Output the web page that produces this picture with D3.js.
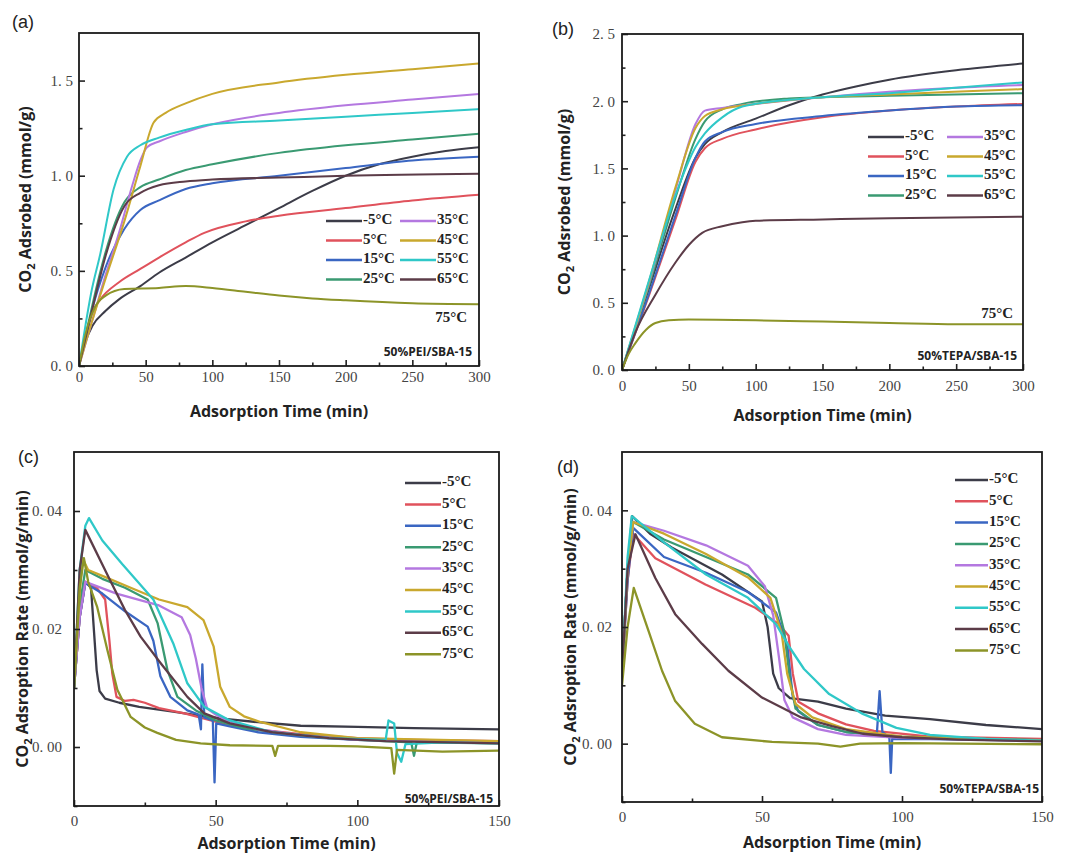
<!DOCTYPE html>
<html><head><meta charset="utf-8">
<script src="https://cdn.jsdelivr.net/npm/d3@7/dist/d3.min.js"></script>
<style>body{margin:0;background:#fff}</style>
</head><body>
<svg id="chart" width="1069" height="855"></svg>
<script>
// ---------- categories ----------
const temps = ["-5°C","5°C","15°C","25°C","35°C","45°C","55°C","65°C","75°C"];
const colors = ["#3c3c48","#e0525c","#3a66c2","#3a9a72","#b478e0","#c9a82e","#2fc8c8","#5c3c48","#8c9428"];

// ---------- (a) 50%PEI/SBA-15 uptake [min, mmol/g] ----------
const a_m5 = [[0,0],[5,0.13],[10,0.21],[20,0.29],[30,0.35],[46,0.42],[60,0.49],[80,0.57],[100,0.65],[125,0.74],[150,0.83],[175,0.92],[200,1.0],[225,1.06],[250,1.1],[275,1.13],[300,1.15]];
const a_p5 = [[0,0],[5,0.15],[10,0.28],[16,0.35],[30,0.44],[46,0.51],[60,0.57],[80,0.65],[94,0.7],[125,0.76],[150,0.79],[200,0.83],[250,0.87],[300,0.9]];
const a_p15 = [[0,0],[5,0.15],[10,0.3],[20,0.52],[34,0.72],[46,0.82],[60,0.87],[80,0.93],[100,0.96],[150,1.0],[200,1.04],[250,1.08],[300,1.1]];
const a_p25 = [[0,0],[5,0.16],[10,0.32],[20,0.6],[34,0.86],[46,0.94],[60,0.98],[80,1.03],[100,1.06],[150,1.12],[200,1.16],[250,1.19],[300,1.22]];
const a_p35 = [[0,0],[10,0.24],[20,0.48],[30,0.7],[40,0.95],[46,1.08],[51,1.15],[60,1.18],[80,1.23],[100,1.27],[150,1.33],[200,1.37],[250,1.4],[300,1.43]];
const a_p45 = [[0,0],[10,0.24],[20,0.46],[34,0.76],[46,1.05],[56,1.28],[65,1.33],[80,1.38],[100,1.43],[150,1.49],[200,1.53],[250,1.56],[300,1.59]];
const a_p55 = [[0,0],[5,0.22],[9,0.38],[16,0.59],[26,0.93],[36,1.1],[46,1.16],[60,1.2],[80,1.24],[100,1.27],[150,1.29],[200,1.31],[250,1.33],[300,1.35]];
const a_p65 = [[0,0],[5,0.15],[10,0.3],[20,0.58],[34,0.84],[46,0.91],[60,0.95],[80,0.97],[100,0.98],[150,0.99],[200,1.0],[300,1.01]];
const a_p75 = [[0,0],[5,0.17],[12,0.31],[20,0.37],[34,0.405],[60,0.41],[80,0.42],[100,0.41],[125,0.39],[150,0.37],[175,0.355],[200,0.345],[250,0.33],[300,0.325]];

// ---------- (b) 50%TEPA/SBA-15 uptake ----------
const b_m5 = [[0,0],[20,0.6],[40,1.2],[55,1.58],[62,1.68],[75,1.77],[100,1.87],[125,1.97],[150,2.05],[175,2.11],[200,2.16],[250,2.23],[300,2.28]];
const b_p5 = [[0,0],[20,0.55],[40,1.12],[55,1.55],[62,1.65],[75,1.72],[100,1.79],[150,1.88],[200,1.93],[250,1.96],[300,1.98]];
const b_p15 = [[0,0],[20,0.56],[40,1.15],[55,1.58],[62,1.7],[75,1.77],[100,1.83],[150,1.89],[200,1.93],[250,1.96],[300,1.97]];
const b_p25 = [[0,0],[20,0.62],[40,1.28],[55,1.72],[62,1.85],[75,1.94],[90,1.98],[125,2.02],[150,2.03],[200,2.04],[300,2.06]];
const b_p35 = [[0,0],[20,0.64],[40,1.34],[55,1.83],[62,1.93],[75,1.95],[100,1.98],[150,2.03],[200,2.07],[250,2.1],[300,2.12]];
const b_p45 = [[0,0],[20,0.65],[40,1.36],[55,1.8],[62,1.89],[75,1.94],[100,1.98],[150,2.03],[200,2.05],[300,2.09]];
const b_p55 = [[0,0],[20,0.66],[40,1.3],[55,1.66],[62,1.76],[75,1.88],[90,1.96],[125,2.01],[150,2.03],[200,2.06],[250,2.1],[300,2.14]];
const b_p65 = [[0,0],[10,0.28],[25,0.56],[40,0.8],[50,0.93],[60,1.02],[75,1.07],[90,1.1],[100,1.11],[150,1.12],[200,1.13],[300,1.14]];
const b_p75 = [[0,0],[5,0.12],[10,0.2],[18,0.3],[25,0.35],[35,0.37],[50,0.375],[100,0.37],[150,0.36],[200,0.35],[250,0.34],[300,0.34]];

// ---------- (c) 50%PEI/SBA-15 rate [min, mmol/g/min] ----------
const c_m5 = [[0,0.01],[2,0.022],[4,0.028],[6,0.027],[8,0.013],[9,0.0095],[11,0.0082],[16,0.0075],[23,0.0068],[35,0.006],[46,0.0052],[55,0.0047],[65,0.0042],[80,0.0036],[100,0.0034],[120,0.0032],[150,0.003]];
const c_p5 = [[0,0.01],[2,0.022],[4,0.028],[8,0.027],[11,0.025],[12.5,0.018],[13.5,0.0125],[15,0.0085],[18,0.0078],[21,0.008],[25,0.0075],[30,0.0066],[39,0.0057],[50,0.0043],[60,0.0032],[80,0.0022],[100,0.0015],[120,0.0012],[150,0.001]];
const c_p15 = [[0,0.01],[2,0.022],[4,0.0278],[10,0.026],[18,0.023],[26,0.0204],[28,0.018],[30.5,0.012],[34,0.0085],[40,0.0062],[44,0.0055],[44.8,0.003],[45.3,0.014],[46,0.005],[49,0.0045],[49.6,-0.006],[50.2,0.004],[55,0.0035],[65,0.0025],[80,0.0017],[100,0.0012],[150,0.0008]];
const c_p25 = [[0,0.01],[2,0.024],[4,0.03],[10,0.0285],[18,0.027],[26,0.025],[29.5,0.021],[33,0.013],[36.5,0.0085],[43,0.0062],[50,0.0045],[60,0.0032],[80,0.002],[100,0.0012],[119,0.0008],[120,-0.0015],[121,0.0008],[150,0.0006]];
const c_p35 = [[0,0.01],[2,0.022],[4,0.028],[15,0.026],[30,0.024],[38,0.022],[41,0.019],[43,0.015],[45,0.01],[47,0.0065],[50,0.0055],[55,0.0042],[65,0.003],[80,0.002],[100,0.0012],[150,0.0008]];
const c_p45 = [[0,0.01],[2,0.026],[3,0.032],[5,0.03],[10,0.029],[20,0.027],[30,0.025],[40,0.0237],[45.7,0.0215],[49.3,0.017],[51.6,0.0102],[55,0.0068],[60,0.0052],[66,0.0042],[80,0.0025],[100,0.0015],[150,0.001]];
const c_p55 = [[0,0.01],[2,0.03],[4,0.0375],[5.3,0.0388],[10,0.035],[17,0.031],[28,0.025],[35,0.0176],[40,0.0108],[46,0.0068],[55,0.0045],[70,0.0025],[90,0.0015],[110,0.0012],[111,0.0045],[113,0.004],[114,-0.001],[115.5,-0.0025],[117,0.0005],[130,0.0008],[150,0.0006]];
const c_p65 = [[0,0.01],[2,0.03],[4,0.0368],[12,0.029],[18,0.0232],[23.5,0.0187],[30.6,0.0142],[40,0.0085],[46,0.0057],[55,0.004],[70,0.0025],[90,0.0015],[110,0.001],[150,0.0006]];
const c_p75 = [[0,0.01],[2,0.027],[3.5,0.032],[5,0.028],[8.2,0.0237],[11.8,0.0164],[15.3,0.0097],[20,0.0051],[25,0.0033],[29.4,0.0024],[36,0.0012],[44.7,0.0006],[55,0.0003],[70,0.0002],[71,-0.0015],[72,0.0002],[90,0.0002],[100,0.0001],[112,-0.0002],[113,-0.0045],[114,-0.0005],[130,-0.0008],[150,-0.0006]];

// ---------- (d) 50%TEPA/SBA-15 rate ----------
const d_m5 = [[0,0.012],[2,0.03],[3.6,0.039],[10,0.036],[17.9,0.0336],[35.7,0.029],[50,0.0244],[52,0.02],[54,0.012],[56,0.0095],[60,0.0078],[70,0.0072],[80,0.006],[94,0.0048],[110,0.0042],[130,0.0032],[150,0.0025]];
const d_p5 = [[0,0.012],[2,0.028],[4,0.036],[11.9,0.0318],[29.8,0.0273],[47.6,0.0233],[56,0.0205],[59.5,0.0185],[61,0.012],[63,0.0072],[70,0.0052],[80,0.0033],[90,0.0022],[110,0.0012],[150,0.0008]];
const d_p15 = [[0,0.012],[2,0.028],[4,0.037],[15,0.032],[30,0.0293],[45,0.026],[55,0.0225],[59,0.017],[61,0.008],[63,0.0055],[70,0.0032],[80,0.002],[91,0.0015],[92,0.009],[93,0.002],[95.5,0.001],[96,-0.005],[96.5,0.0008],[110,0.0008],[150,0.0005]];
const d_p25 = [[0,0.012],[2,0.03],[4,0.038],[15,0.035],[30,0.032],[45,0.029],[55,0.025],[58,0.019],[60,0.011],[62,0.006],[70,0.0032],[80,0.002],[100,0.0012],[150,0.0006]];
const d_p35 = [[0,0.012],[2,0.03],[4,0.038],[15,0.0365],[30,0.034],[45,0.0305],[51,0.027],[54,0.022],[56,0.015],[58,0.0075],[61,0.0045],[70,0.0025],[80,0.0015],[100,0.001],[150,0.0005]];
const d_p45 = [[0,0.012],[2,0.03],[4,0.038],[15,0.036],[30,0.0325],[45,0.0285],[53,0.025],[57,0.019],[59,0.012],[62,0.0068],[68,0.0045],[80,0.0025],[100,0.0012],[150,0.0005]];
const d_p55 = [[0,0.012],[2,0.032],[3.5,0.039],[15,0.0345],[30,0.029],[45,0.025],[55,0.0205],[60,0.0164],[65,0.0128],[74,0.0085],[86,0.0051],[98,0.0027],[110,0.0015],[130,0.0008],[150,0.0005]];
const d_p65 = [[0,0.012],[2,0.03],[4.8,0.0359],[11.9,0.0284],[19,0.0222],[28.6,0.0171],[38,0.0125],[50,0.0079],[64,0.0045],[75,0.003],[86,0.0017],[100,0.0011],[120,0.0007],[150,0.0004]];
const d_p75 = [[0,0.01],[2,0.02],[4.2,0.0267],[9.5,0.0193],[14.3,0.0125],[19,0.0073],[26,0.0034],[35.7,0.0011],[53.6,0.0003],[70,0],[78,-0.0005],[85,0],[100,0.0001],[150,-0.0001]];

// ---------- tick values & labels ----------
const uptakeXTicks = [0,50,100,150,200,250,300];
const uptakeXLabels = ["0","50","100","150","200","250","300"];
const uptakeXMinor = [25,75,125,175,225,275];
const aYTicks = [0,0.5,1.0,1.5];
const aYLabels = ["0. 0","0. 5","1. 0","1. 5"];
const aYMinor = [0.25,0.75,1.25];
const bYTicks = [0,0.5,1.0,1.5,2.0,2.5];
const bYLabels = ["0. 0","0. 5","1. 0","1. 5","2. 0","2. 5"];
const bYMinor = [0.25,0.75,1.25,1.75,2.25];
const rateXTicks = [0,50,100,150];
const rateXLabels = ["0","50","100","150"];
const rateXMinor = [25,75,125];
const rateYTicks = [0,0.02,0.04];
const rateYLabels = ["0. 00","0. 02","0. 04"];
const rateYMinor = [-0.01,0.01,0.03];

const panels = [
  {tag:"(a)", series:[a_m5,a_p5,a_p15,a_p25,a_p35,a_p45,a_p55,a_p65,a_p75], xd:[0,300], yd:[0,1.75],
   xt:uptakeXTicks, xl:uptakeXLabels, xm:uptakeXMinor, yt:aYTicks, yl:aYLabels, ym:aYMinor,
   box:{l:79,r:479,t:33,b:366}, xpad:5, ypad:6, curve:d3.curveMonotoneX, sw:2,
   ytitle:["CO","2"," Adsrobed (mmol/g)"], ytx:27, xty:413, tagPos:[12,28],
   legend:{type:2, x1:326, x2:400, y0:221, dy:19.5, len:36},
   note:"50%PEI/SBA-15", noteX:472, noteY:356, t75:[467,322]},
  {tag:"(b)", series:[b_m5,b_p5,b_p15,b_p25,b_p35,b_p45,b_p55,b_p65,b_p75], xd:[0,300], yd:[0,2.5],
   xt:uptakeXTicks, xl:uptakeXLabels, xm:uptakeXMinor, yt:bYTicks, yl:bYLabels, ym:bYMinor,
   box:{l:622,r:1023,t:34,b:370}, xpad:10, ypad:7, curve:d3.curveMonotoneX, sw:2,
   ytitle:["CO","2"," Adsrobed (mmol/g)"], ytx:566, xty:417, tagPos:[552,35],
   legend:{type:2, x1:868, x2:947, y0:137, dy:19.5, len:36},
   note:"50%TEPA/SBA-15", noteX:1017, noteY:360, t75:[1013,318]},
  {tag:"(c)", series:[c_m5,c_p5,c_p15,c_p25,c_p35,c_p45,c_p55,c_p65,c_p75], xd:[0,150], yd:[-0.01,0.05],
   xt:rateXTicks, xl:rateXLabels, xm:rateXMinor, yt:rateYTicks, yl:rateYLabels, ym:rateYMinor,
   box:{l:74,r:499,t:452,b:806}, xpad:9, ypad:12, curve:d3.curveLinear, sw:2.3,
   ytitle:["CO","2"," Adsroption Rate (mmol/g/min)"], ytx:24, xty:845, tagPos:[18,463],
   legend:{type:1, x1:405, y0:483, dy:21.4, len:36},
   note:"50%PEI/SBA-15", noteX:493, noteY:803, t75:null},
  {tag:"(d)", series:[d_m5,d_p5,d_p15,d_p25,d_p35,d_p45,d_p55,d_p65,d_p75], xd:[0,150], yd:[-0.01,0.05],
   xt:rateXTicks, xl:rateXLabels, xm:rateXMinor, yt:rateYTicks, yl:rateYLabels, ym:rateYMinor,
   box:{l:622,r:1042,t:452,b:802}, xpad:9, ypad:10, curve:d3.curveLinear, sw:2.3,
   ytitle:["CO","2"," Adsroption Rate (mmol/g/min)"], ytx:572, xty:844, tagPos:[557,473],
   legend:{type:1, x1:955, y0:480, dy:21.3, len:33},
   note:"50%TEPA/SBA-15", noteX:1039, noteY:793, t75:null}
];

const svg = d3.select("#chart");
const tickFont = "'Liberation Serif', 'DejaVu Serif', serif";
const sansFont = "'Open Sans', 'Liberation Sans', sans-serif";

panels.forEach((p, pi) => {
  const b = p.box;
  const x = d3.scaleLinear().domain(p.xd).range([b.l, b.r]);
  const y = d3.scaleLinear().domain(p.yd).range([b.b, b.t]);
  const g = svg.append("g");

  const clipId = "clip" + pi;
  svg.append("clipPath").attr("id", clipId).append("rect")
    .attr("x", b.l).attr("y", b.t).attr("width", b.r - b.l).attr("height", b.b - b.t);

  // lines
  const line = d3.line().x(d => x(d[0])).y(d => y(d[1])).curve(p.curve);
  const lg = g.append("g").attr("clip-path", `url(#${clipId})`);
  p.series.forEach((s, i) => {
    lg.append("path").datum(s).attr("d", line)
      .attr("fill", "none").attr("stroke", colors[i])
      .attr("stroke-width", p.sw).attr("stroke-linejoin", "round");
  });

  // axes (inward ticks)
  const xAxis = d3.axisBottom(x).tickValues(p.xt).tickFormat((d, i) => p.xl[i])
    .tickSizeInner(-6).tickSizeOuter(0).tickPadding(p.xpad);
  const xMinor = d3.axisBottom(x).tickValues(p.xm).tickFormat("").tickSizeInner(-3.5).tickSizeOuter(0);
  const yAxis = d3.axisLeft(y).tickValues(p.yt).tickFormat((d, i) => p.yl[i])
    .tickSizeInner(-6).tickSizeOuter(0).tickPadding(p.ypad);
  const yMinor = d3.axisLeft(y).tickValues(p.ym).tickFormat("").tickSizeInner(-3.5).tickSizeOuter(0);

  [[xAxis, `translate(0,${b.b})`], [xMinor, `translate(0,${b.b})`],
   [yAxis, `translate(${b.l},0)`], [yMinor, `translate(${b.l},0)`]].forEach(([ax, tr]) => {
    const ag = g.append("g").attr("transform", tr).call(ax);
    ag.select(".domain").remove();
    ag.selectAll(".tick line").attr("stroke", "#222").attr("stroke-width", 1.6);
    ag.selectAll(".tick text").attr("font-family", tickFont).attr("font-size", 15).attr("fill", "#444");
  });

  // frame
  g.append("rect").attr("x", b.l).attr("y", b.t).attr("width", b.r - b.l).attr("height", b.b - b.t)
    .attr("fill", "none").attr("stroke", "#1a1a1a").attr("stroke-width", 1.8);

  // axis titles
  g.append("text").attr("x", (b.l + b.r) / 2).attr("y", p.xty)
    .attr("text-anchor", "middle").attr("dominant-baseline", "middle")
    .attr("font-family", sansFont).attr("font-weight", "bold").attr("font-size", 16).attr("fill", "#222")
    .text("Adsorption Time (min)");
  const yt = g.append("text")
    .attr("transform", `translate(${p.ytx},${(b.t + b.b) / 2}) rotate(-90)`)
    .attr("text-anchor", "middle").attr("dominant-baseline", "middle")
    .attr("font-family", sansFont).attr("font-weight", "bold").attr("font-size", 16).attr("fill", "#222");
  yt.append("tspan").text(p.ytitle[0]);
  yt.append("tspan").attr("font-size", 11).attr("dy", 5).text(p.ytitle[1]);
  yt.append("tspan").attr("dy", -5).text(p.ytitle[2]);

  // panel tag
  g.append("text").attr("x", p.tagPos[0]).attr("y", p.tagPos[1])
    .attr("font-family", "'Liberation Sans', Arial, sans-serif").attr("font-size", 18).attr("fill", "#222")
    .text(p.tag);

  // legend
  const L = p.legend;
  const legendItems = p.legend.type === 2 ? temps.slice(0, 8) : temps;
  legendItems.forEach((t, i) => {
    let lx, ly;
    if (L.type === 2) { lx = i < 4 ? L.x1 : L.x2; ly = L.y0 + (i % 4) * L.dy; }
    else { lx = L.x1; ly = L.y0 + i * L.dy; }
    g.append("line").attr("x1", lx).attr("x2", lx + L.len).attr("y1", ly).attr("y2", ly)
      .attr("stroke", colors[i]).attr("stroke-width", 2.5);
    g.append("text").attr("x", lx + L.len + 1).attr("y", ly).attr("dominant-baseline", "middle")
      .attr("font-family", tickFont).attr("font-weight", "bold").attr("font-size", 15).attr("fill", "#222")
      .text(t);
  });

  // annotations
  g.append("text").attr("x", p.noteX).attr("y", p.noteY).attr("text-anchor", "end")
    .attr("font-family", sansFont).attr("font-weight", "bold").attr("font-size", 12).attr("fill", "#222")
    .text(p.note);
  if (p.t75) {
    g.append("text").attr("x", p.t75[0]).attr("y", p.t75[1]).attr("text-anchor", "end")
      .attr("font-family", tickFont).attr("font-weight", "bold").attr("font-size", 15).attr("fill", "#222")
      .text(temps[8]);
  }
});
</script>
</body></html>
